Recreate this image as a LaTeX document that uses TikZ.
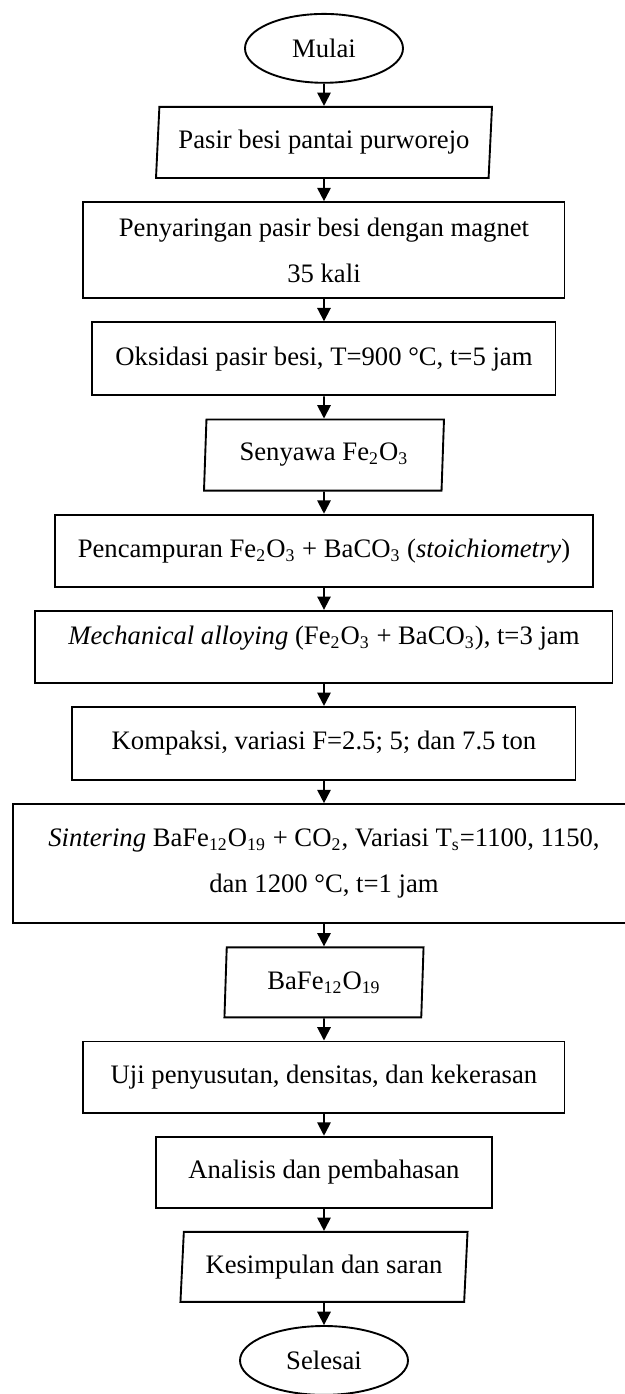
\documentclass[tikz,border=0pt]{standalone}
\usepackage{fontspec}
\setmainfont{Liberation Serif}
\usetikzlibrary{matrix,shapes.geometric,arrows.meta}
\newcommand{\cFe}{Fe\textsubscript{2}O\textsubscript{3}}
\newcommand{\cBa}{BaCO\textsubscript{3}}
\newcommand{\cBF}{BaFe\textsubscript{12}O\textsubscript{19}}

\begin{document}
\begin{tikzpicture}[line width=0.85pt, font=\fontsize{12pt}{20.7pt}\selectfont,
  term/.style={draw, ellipse, inner sep=0pt},
  io/.style={draw, trapezium, trapezium left angle=82, trapezium right angle=98,
    trapezium stretches body, inner sep=0pt},
  proc/.style={draw, rectangle, align=flush center, inner sep=0pt}]
  \useasboundingbox (-145.8pt,5.4pt) rectangle (135.45pt,-621.9pt);
  \matrix(m)[matrix of nodes,row sep=10pt,inner sep=0pt,anchor=north] at (0,0)
  { |[term, minimum width=71.1pt, minimum height=31pt]| Mulai\\
    |[io, minimum width=151.2pt, minimum height=32pt]| Pasir besi pantai purworejo\\
    |[proc, text width=216.5pt, minimum height=43.2pt]| Penyaringan pasir besi dengan magnet\par 35 kali\\
    |[proc, minimum width=208.4pt, minimum height=32.9pt]| Oksidasi pasir besi, T=900 °C, t=5 jam\\
    |[io, trapezium left angle=84, trapezium right angle=96, minimum width=108pt, minimum height=32pt]| Senyawa \cFe\\
    |[proc, minimum width=242.1pt, minimum height=32.4pt]| Pencampuran \cFe{} + \cBa{} (\textit{stoichiometry})\\
    |[proc, minimum width=259.7pt, minimum height=32.4pt, text depth=10pt]| \textit{Mechanical alloying} (\cFe{} + \cBa), t=3 jam\\
    |[proc, minimum width=226.4pt, minimum height=32.9pt]| Kompaksi, variasi F=2.5; 5; dan 7.5 ton\\
    |[proc, text width=279.9pt, minimum height=53.6pt]| \textit{Sintering} \cBF{} + CO\textsubscript{2}, Variasi T\textsubscript{s}=1100, 1150,\par dan 1200 °C, t=1 jam\\
    |[io, trapezium left angle=84, trapezium right angle=96, minimum width=89.6pt, minimum height=31.5pt]| \cBF\\
    |[proc, minimum width=216.5pt, minimum height=32pt]| Uji penyusutan, densitas, dan kekerasan\\
    |[proc, minimum width=151.2pt, minimum height=32pt]| Analisis dan pembahasan\\
    |[io, minimum width=129.2pt, minimum height=31.5pt]| Kesimpulan dan saran\\
    |[term, minimum width=75.6pt, minimum height=31pt]| Selesai\\};
  \path[-{Triangle[length=6pt,width=6pt]}]
    (m-1-1) edge (m-2-1)
    (m-2-1) edge (m-3-1)
    (m-3-1) edge (m-4-1)
    (m-4-1) edge (m-5-1)
    (m-5-1) edge (m-6-1)
    (m-6-1) edge (m-7-1)
    (m-7-1) edge (m-8-1)
    (m-8-1) edge (m-9-1)
    (m-9-1) edge (m-10-1)
    (m-10-1) edge (m-11-1)
    (m-11-1) edge (m-12-1)
    (m-12-1) edge (m-13-1)
    (m-13-1) edge (m-14-1);
\end{tikzpicture}
\end{document}
